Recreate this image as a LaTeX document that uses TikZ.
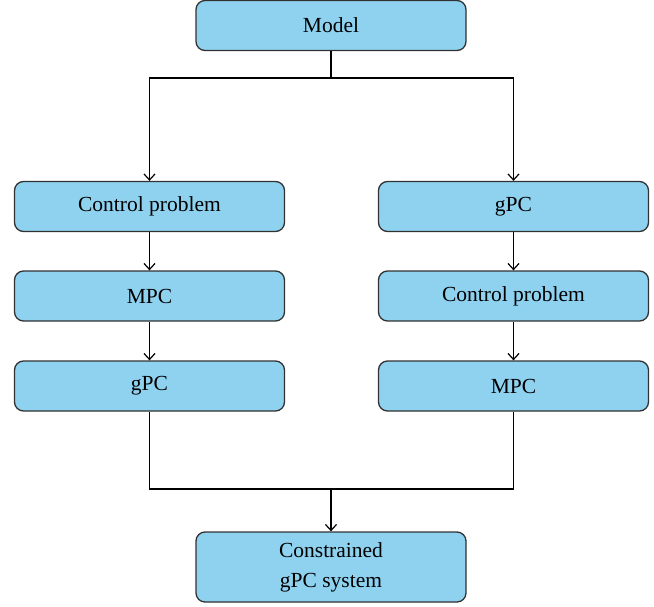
\documentclass[tikz,border=0pt]{standalone}
\usepackage{fontspec}
\setmainfont{Liberation Serif}
\usetikzlibrary{arrows.meta}
\definecolor{boxfill}{RGB}{142,210,240}
\definecolor{boxline}{RGB}{50,50,50}
\begin{document}
\begin{tikzpicture}[x=1pt,y=-1pt,
  blk/.style={draw=boxline, fill=boxfill, line width=1.3pt, rounded corners=9pt,
    minimum width=270pt, minimum height=50pt, inner sep=0pt, align=center,
    font=\fontsize{21.5}{30}\selectfont},
  conn/.style={line width=1.2pt, black},
  arr/.style={conn, -{Straight Barb[length=6pt,width=11pt,line width=1.2pt]}}]
\useasboundingbox (0,0) rectangle (654,606);
\node[blk] (model) at (331,25.5) {Model};
\node[blk] (l1) at (149.5,206.5) {Control problem};
\node[blk] (l2) at (149.5,296) {MPC};
\node[blk] (l3) at (149.5,386) {gPC};
\node[blk] (r1) at (513.5,206.5) {gPC};
\node[blk] (r2) at (513.5,296) {Control problem};
\node[blk] (r3) at (513.5,386) {MPC};
\node[blk, minimum height=70pt] (out) at (331,567) {Constrained\\gPC system};
\coordinate (top) at (331,78);
\coordinate (bot) at (331,489);
\draw[conn] (model.south) -- (top);
\draw[arr] (top) -| (l1.north);
\draw[arr] (top) -| (r1.north);
\draw[arr] (l1) -- (l2);
\draw[arr] (l2) -- (l3);
\draw[arr] (r1) -- (r2);
\draw[arr] (r2) -- (r3);
\draw[conn] (l3.south) |- (bot);
\draw[conn] (r3.south) |- (bot);
\draw[arr] (bot) -- (out.north);
\end{tikzpicture}
\end{document}
